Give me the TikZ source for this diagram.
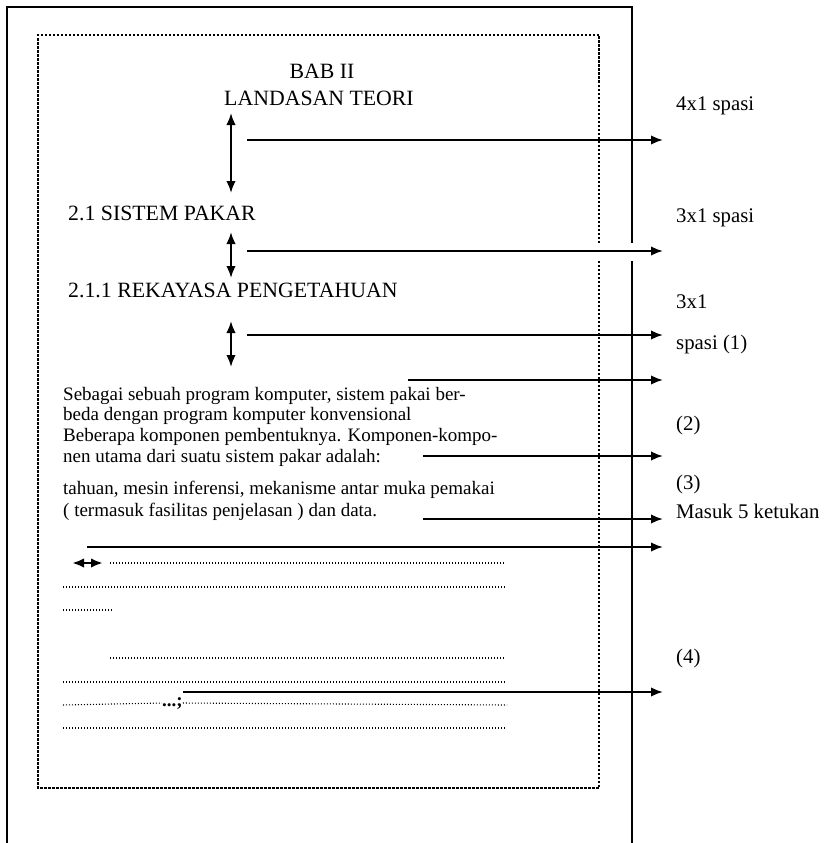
\documentclass[tikz,border=0pt]{standalone}
\usepackage{fontspec}
\setmainfont{Liberation Serif}
\usepackage{tikz}
\usetikzlibrary{arrows.meta, positioning}

\begin{document}
\begin{tikzpicture}[>={Latex[length=12pt,width=9.5pt]},x=1pt,y=-1pt,
  head/.style={font=\fontsize{21.8}{24}\selectfont, inner sep=0pt, anchor=base west},
  para/.style={font=\fontsize{19}{21}\selectfont, inner sep=0pt, anchor=base west},
  note/.style={font=\fontsize{20.8}{23}\selectfont, inner sep=0pt, anchor=base west},
  gap/.style={<->, line width=2.1pt},
  pointer/.style={->, line width=2.1pt},
  dots/.style={line width=1.1pt, dash pattern=on 1pt off 2pt},
  margin/.style={line width=1.1pt, dash pattern=on 2.5pt off 1.5pt},
  sheet/.style={line width=1.4pt}]
\useasboundingbox (0,0) rectangle (833,843);
%%
  % Sheet and margin
  \draw [sheet] (7,843) -- (7,7) -- (632,7) -- (632,243);
  \draw [sheet] (632,261) -- (632,843);
  \draw [margin] (599,243) -- (599,35) -- (38,35) -- (38,788) -- (599,788) -- (599,261);
  % Node: headings
  \node [head, anchor=base] (bab) at (322,78) {BAB II};
  \node [head, anchor=base] (judul) at (319,105) {LANDASAN TEORI};
  \node [head] (sub) at (68,220) {2.1 SISTEM PAKAR};
  \node [head] (subsub) at (68,297) {2.1.1 REKAYASA PENGETAHUAN};
  % Node: paragraph
  \node [para] (p1) at (63,400) {Sebagai sebuah program komputer, sistem pakai ber-};
  \node [para] (p2) at (63,420) {beda dengan program komputer konvensional};
  \node [para] (p3) at (63,441) {Beberapa komponen pembentuknya. Komponen-kompo-};
  \node [para] (p4) at (63,462) {nen utama dari suatu sistem pakar adalah:};
  \node [para] (p5) at (63,494) {tahuan, mesin inferensi, mekanisme antar muka pemakai};
  \node [para] (p6) at (63,516) {( termasuk fasilitas penjelasan ) dan data.};
  \node [para, font=\fontsize{19}{21}\selectfont\bfseries] (semi) at (162,706) {...;};
  % Node: notes
  \node [note] (n1) at (676,110) {4x1 spasi};
  \node [note] (n2) at (676,222) {3x1 spasi};
  \node [note] (n3) at (676,308) {3x1};
  \node [note] (n4) at (676,349) {spasi (1)};
  \node [note] (n5) at (676,430) {(2)};
  \node [note] (n6) at (676,489) {(3)};
  \node [note] (n7) at (676,518) {Masuk 5 ketukan};
  \node [note] (n8) at (676,663) {(4)};
  % Edge: spacing markers
  \foreach \name/\ya/\yb in {ga/113/193, gb/232/278, gc/321/367} {
    \coordinate (\name-top) at (231,\ya);
    \coordinate (\name-bot) at (231,\yb);
    \draw [gap] (\name-top) -- (\name-bot);
  }
  \coordinate (indent-l) at (72,563);
  \coordinate (indent-r) at (103,563);
  \draw [gap, line width=2.4pt] (indent-l) -- (indent-r);
  % Edge: pointers to the notes
  \foreach \name/\xs/\y in {a/247/140, b/247/251, c/247/335, d/408/380,
                            e/423/456, f/423/519, g/87/547, h/183/692} {
    \coordinate (\name-s) at (\xs,\y);
    \coordinate (\name-e) at (663,\y);
    \draw [pointer] (\name-s) -- (\name-e);
  }
  % Edge: dotted text lines
  \draw [dots] (110,563) -- (505,563);
  \draw [dots] (63,587) -- (505,587);
  \draw [dots] (63,610) -- (112,610);
  \draw [dots] (110,658) -- (505,658);
  \draw [dots] (63,682) -- (505,682);
  \draw [dots] (63,705) -- (semi.west);
  \draw [dots] (semi.east) -- (507,705);
  \draw [dots] (63,728) -- (505,728);
%
\end{tikzpicture}
\end{document}
